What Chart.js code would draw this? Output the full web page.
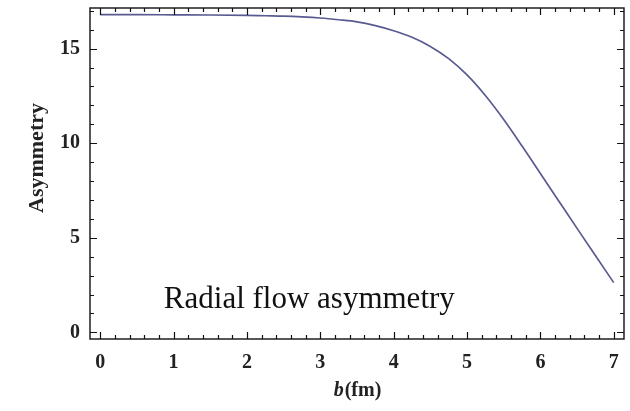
<!DOCTYPE html>
<html lang="en">
<head>
<meta charset="UTF-8">
<title>Radial flow asymmetry</title>
<script src="https://cdn.jsdelivr.net/npm/chart.js"></script>
<style>
  html, body { margin: 0; padding: 0; background: #fff; }
</style>
</head>
<body>
<canvas id="myChart" width="630" height="411"></canvas>
<script>
  // impact parameter b (fm) and the asymmetry
  const bValues = [0, 0.5, 1, 1.5, 2, 2.25, 2.5, 2.75, 3, 3.25, 3.5, 3.75, 4, 4.25, 4.5, 4.75, 5, 5.25, 5.5, 5.75, 6, 6.25, 6.5, 6.75, 7];
  const asymmetry = [16.80, 16.80, 16.79, 16.78, 16.76, 16.74, 16.72, 16.68, 16.62, 16.53, 16.42, 16.22, 15.95, 15.60, 15.12, 14.47, 13.61, 12.52, 11.25, 9.85, 8.40, 6.95, 5.50, 4.06, 2.63];

  const xTickValues = [0, 1, 2, 3, 4, 5, 6, 7];
  const yTickValues = [0, 5, 10, 15];

  const serif = "'Liberation Serif', 'DejaVu Serif', serif";

  // Mathematica style frame: box with inward major/minor ticks on all sides, plus titles
  const frameTicks = {
    id: 'frameTicks',
    afterDatasetsDraw(chart) {
      const { ctx, chartArea: a, scales: { x, y } } = chart;
      ctx.save();
      ctx.strokeStyle = '#111';
      ctx.lineWidth = 1.4;
      ctx.strokeRect(a.left, a.top, a.right - a.left, a.bottom - a.top);

      ctx.lineWidth = 1.2;
      ctx.beginPath();
      for (let i = Math.ceil(x.min / 0.2); i * 0.2 <= x.max + 1e-9; i++) {
        const v = i * 0.2;
        const len = Math.abs(v - Math.round(v)) < 1e-6 ? 7 : 4;
        const px = Math.round(x.getPixelForValue(v)) + 0.5;
        ctx.moveTo(px, a.bottom); ctx.lineTo(px, a.bottom - len);
        ctx.moveTo(px, a.top); ctx.lineTo(px, a.top + len);
      }
      for (let v = Math.ceil(y.min); v <= y.max; v++) {
        const len = v % 5 === 0 ? 7 : 4;
        const py = Math.round(y.getPixelForValue(v)) + 0.5;
        ctx.moveTo(a.left, py); ctx.lineTo(a.left + len, py);
        ctx.moveTo(a.right, py); ctx.lineTo(a.right - len, py);
      }
      ctx.stroke();

      // annotation inside the plot
      ctx.fillStyle = '#111';
      ctx.font = '31px ' + serif;
      ctx.textAlign = 'center';
      ctx.textBaseline = 'alphabetic';
      ctx.fillText('Radial flow asymmetry', x.getPixelForValue(2.85), y.getPixelForValue(1.3));

      // x axis title: italic b + (fm)
      const cx = (a.left + a.right) / 2;
      ctx.fillStyle = '#222';
      ctx.font = 'italic bold 20px ' + serif;
      const wb = ctx.measureText('b').width;
      ctx.font = 'bold 20px ' + serif;
      const wr = ctx.measureText('(fm)').width;
      const x0 = cx - (wb + wr) / 2;
      ctx.textAlign = 'left';
      ctx.font = 'italic bold 20px ' + serif;
      ctx.fillText('b', x0, 396);
      ctx.font = 'bold 20px ' + serif;
      ctx.fillText('(fm)', x0 + wb + 1, 396);

      // y axis title
      ctx.translate(37, 158);
      ctx.rotate(-Math.PI / 2);
      ctx.textAlign = 'center';
      ctx.textBaseline = 'middle';
      ctx.font = 'bold 22px ' + serif;
      ctx.fillText('Asymmetry', 0, 0);
      ctx.restore();
    }
  };

  new Chart(document.getElementById('myChart'), {
    type: 'line',
    data: {
      datasets: [{
        label: 'Asymmetry',
        data: bValues.map((b, i) => ({ x: b, y: asymmetry[i] })),
        borderColor: '#5a5a92',
        borderWidth: 1.7,
        pointRadius: 0,
        fill: false,
        cubicInterpolationMode: 'monotone'
      }]
    },
    options: {
      responsive: false,
      devicePixelRatio: 1,
      animation: false,
      layout: { padding: { top: 8, right: 6, left: 0, bottom: 0 } },
      plugins: {
        legend: { display: false },
        tooltip: { enabled: false }
      },
      scales: {
        x: {
          type: 'linear',
          min: -0.14,
          max: 7.14,
          afterBuildTicks: s => { s.ticks = xTickValues.map(v => ({ value: v })); },
          afterFit: s => { s.height = 72; s.paddingLeft = 0; s.paddingRight = 0; },
          grid: { display: false, drawTicks: false },
          border: { display: false },
          ticks: {
            padding: 12,
            maxRotation: 0,
            color: '#222',
            font: { family: serif, size: 20, weight: 'bold' }
          }
        },
        y: {
          min: -0.35,
          max: 17.15,
          afterBuildTicks: s => { s.ticks = yTickValues.map(v => ({ value: v })); },
          afterFit: s => { s.width = 90; s.paddingTop = 0; s.paddingBottom = 0; },
          grid: { display: false, drawTicks: false },
          border: { display: false },
          ticks: {
            padding: 10,
            color: '#222',
            font: { family: serif, size: 20, weight: 'bold' }
          }
        }
      }
    },
    plugins: [frameTicks]
  });
</script>
</body>
</html>
